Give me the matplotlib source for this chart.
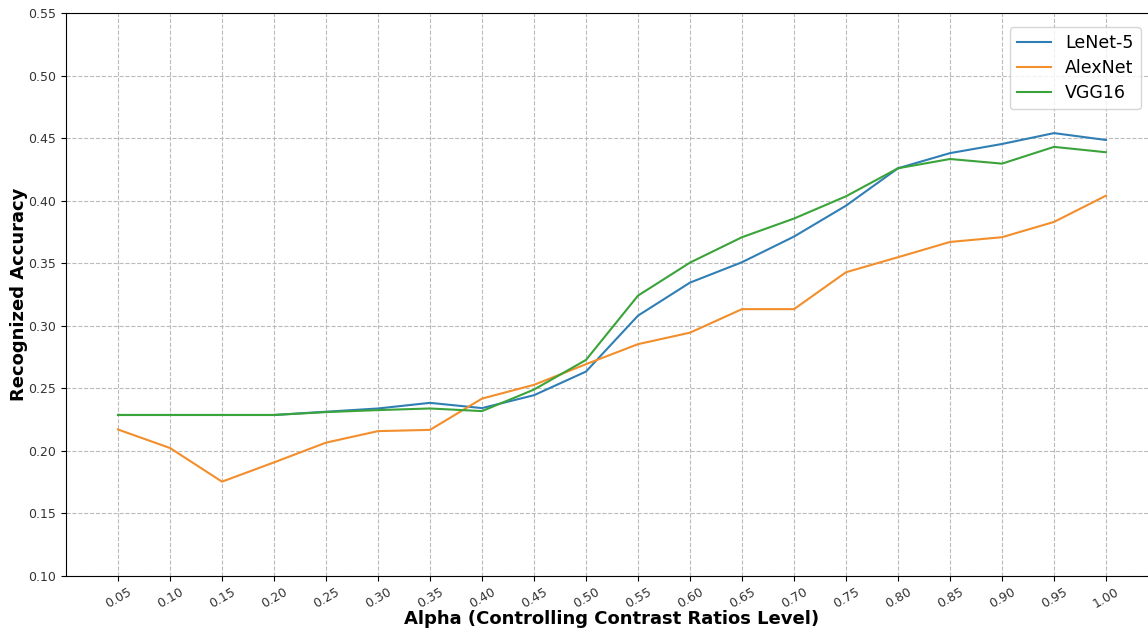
import matplotlib
matplotlib.use("Agg")
import matplotlib.pyplot as plt

alpha = [0.05, 0.10, 0.15, 0.20, 0.25, 0.30, 0.35, 0.40, 0.45, 0.50,
         0.55, 0.60, 0.65, 0.70, 0.75, 0.80, 0.85, 0.90, 0.95, 1.00]
tick_labels = [f"{a:.2f}" for a in alpha]
lenet5 = [0.2287, 0.2287, 0.2287, 0.2287, 0.2313, 0.2339, 0.2384, 0.2342, 0.2445, 0.2634,
          0.3081, 0.3345, 0.3508, 0.3713, 0.3960, 0.4259, 0.4380, 0.4453, 0.4540, 0.4485]
alexnet = [0.2171, 0.2023, 0.1754, 0.1908, 0.2066, 0.2158, 0.2168, 0.2418, 0.2528, 0.2693,
           0.2853, 0.2945, 0.3133, 0.3133, 0.3428, 0.3548, 0.3670, 0.3708, 0.3830, 0.4040]
vgg16 = [0.2287, 0.2287, 0.2287, 0.2287, 0.2310, 0.2326, 0.2339, 0.2318, 0.2490, 0.2727,
         0.3241, 0.3505, 0.3708, 0.3857, 0.4035, 0.4259, 0.4333, 0.4296, 0.4430, 0.4387]
yticks = [0.10, 0.15, 0.20, 0.25, 0.30, 0.35, 0.40, 0.45, 0.50, 0.55]

fig = plt.figure(figsize=(11.48, 6.32), dpi=100)
ax = fig.add_axes([66/1148, 56/632, 1092/1148, 563/632])
ax.plot(alpha, lenet5, color="#2f7fb5", lw=1.5, label="LeNet-5")
ax.plot(alpha, alexnet, color="#f28e2b", lw=1.5, label="AlexNet")
ax.plot(alpha, vgg16, color="#3aa33a", lw=1.5, label="VGG16")

ax.set_xlim(0, 1.05)
ax.set_ylim(0.10, 0.55)
ax.set_xticks(alpha)
ax.set_xticklabels(tick_labels, rotation=30, fontsize=9, color="#333333")
ax.set_yticks(yticks)
ax.set_yticklabels([f"{v:.2f}" for v in yticks], fontsize=9, color="#333333")
ax.grid(True, linestyle="--", color="#bbbbbb", linewidth=0.8)
ax.set_xlabel("Alpha (Controlling Contrast Ratios Level)", fontsize=13, fontweight="bold", labelpad=-1)
ax.set_ylabel("Recognized Accuracy", fontsize=13, fontweight="bold", labelpad=0.5)
ax.legend(loc="upper right", fontsize=12.5, bbox_to_anchor=(0.992, 0.99), labelspacing=0.4)
fig.savefig("out.png", dpi=100)
